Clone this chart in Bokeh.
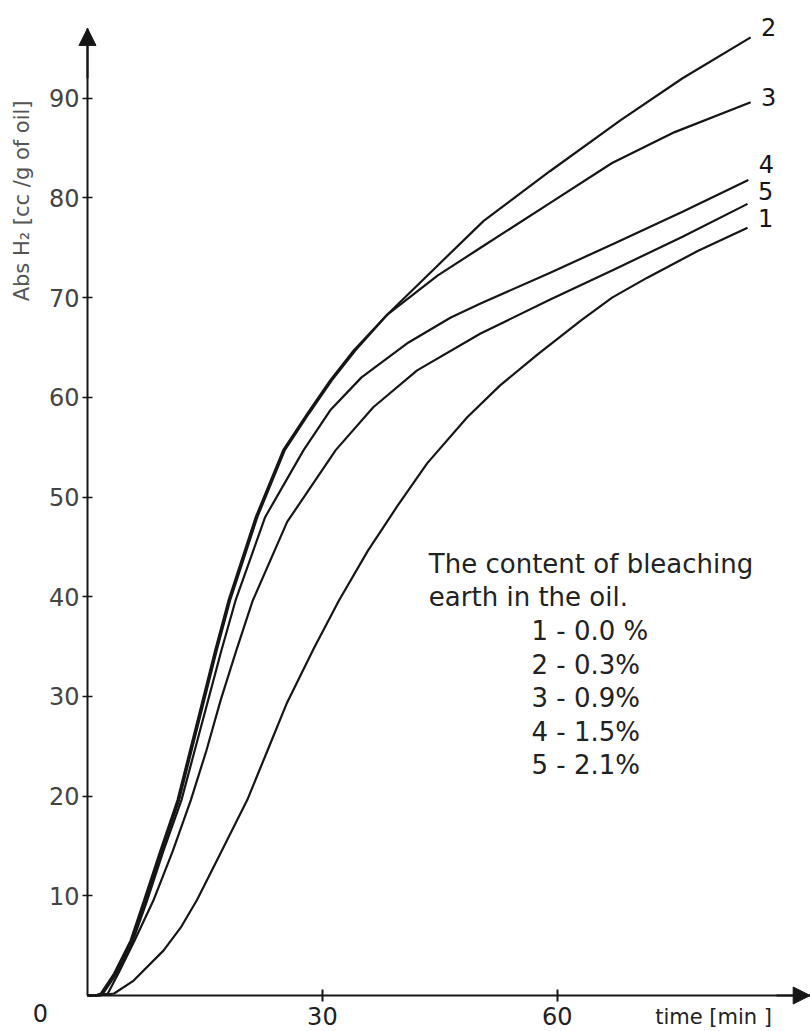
import math
from bokeh.plotting import figure
from bokeh.models import Range1d, FixedTicker, Label, ColumnDataSource, Arrow, NormalHead
from bokeh.core.properties import value
from bokeh.embed import file_html
from bokeh.resources import INLINE

# ---------------- data ----------------
series_names = ["1", "2", "3", "4", "5"]
contents_pct = ["0.0 %", "0.3%", "0.9%", "1.5%", "2.1%"]

t1 = [0, 1.5, 3.4, 5.9, 9.7, 11.9, 14.0, 17.2, 20.4, 22.9, 25.5, 28.9, 32.1, 35.8, 39.5, 43.4, 48.5, 52.7, 57.5, 63.0, 67.0, 71.5, 78.0, 84.3]
y1 = [0, 0, 0.2, 1.5, 4.5, 6.8, 9.6, 14.6, 19.6, 24.4, 29.4, 34.8, 39.6, 44.6, 49.0, 53.4, 58.0, 61.2, 64.3, 67.7, 70.0, 72.0, 74.7, 77.0]

t2 = [0, 1.0, 1.7, 3.4, 5.5, 7.2, 9.3, 11.5, 13.1, 14.7, 16.3, 18.0, 21.5, 25.0, 28.1, 31.0, 34.0, 38.3, 44.7, 50.6, 59.1, 68.1, 76.0, 84.7]
y2 = [0, 0, 0.2, 2.2, 5.5, 9.5, 14.5, 19.6, 24.6, 29.6, 34.6, 39.6, 48.0, 54.7, 58.4, 61.7, 64.7, 68.3, 73.2, 77.7, 82.7, 87.8, 92.0, 96.1]

t3 = [0, 1.2, 1.9, 3.6, 5.7, 7.4, 9.5, 11.7, 13.3, 14.9, 16.5, 18.2, 21.7, 25.2, 28.3, 31.2, 34.2, 38.3, 44.7, 50.2, 59.1, 67.0, 75.0, 84.7]
y3 = [0, 0, 0.2, 2.2, 5.5, 9.5, 14.5, 19.6, 24.6, 29.6, 34.6, 39.6, 48.0, 54.7, 58.4, 61.7, 64.7, 68.3, 72.2, 75.0, 79.5, 83.5, 86.6, 89.6]

t4 = [0, 1.2, 2.0, 3.7, 5.8, 7.6, 9.7, 12.0, 13.7, 15.4, 17.1, 18.9, 22.7, 27.6, 31.0, 35.0, 41.0, 46.4, 50.2, 59.1, 67.2, 76.0, 84.4]
y4 = [0, 0, 0.2, 2.2, 5.5, 9.5, 14.5, 19.6, 24.6, 29.6, 34.6, 39.6, 48.0, 54.7, 58.7, 62.0, 65.5, 68.0, 69.4, 72.5, 75.4, 78.6, 81.8]

t5 = [0, 1.5, 2.6, 4.0, 6.0, 8.4, 10.9, 13.2, 15.2, 17.0, 19.0, 21.1, 25.5, 31.7, 36.5, 42.1, 50.2, 59.1, 67.2, 76.0, 84.3]
y5 = [0, 0, 0.2, 2.3, 5.5, 9.5, 14.5, 19.6, 24.6, 29.6, 34.6, 39.6, 47.5, 54.7, 59.0, 62.7, 66.4, 69.8, 72.8, 76.1, 79.4]

x_ticks = [30, 60]
y_ticks = [10, 20, 30, 40, 50, 60, 70, 80, 90]

x_title = "time [min ]"
y_title = "Abs H\u2082 [cc /g of oil]"
legend_title = ["The content of bleaching", "earth in the oil."]

series_t = [t1, t2, t3, t4, t5]
series_y = [y1, y2, y3, y4, y5]

# ---------------- styling ----------------
FONT = "DejaVu Sans"
INK = "#161616"
X_MAX, Y_MAX = 92.3, 97.0

p = figure(width=810, height=1031,
           x_range=Range1d(-11.11, 92.34), y_range=Range1d(-3.61, 99.8),
           output_backend="svg", toolbar_location=None, min_border=0)
p.xgrid.visible = False
p.ygrid.visible = False
p.outline_line_color = None
p.background_fill_color = "white"
p.border_fill_color = "white"

xa = p.xaxis[0]
xa.fixed_location = 0
xa.bounds = (0, X_MAX)
xa.ticker = FixedTicker(ticks=x_ticks)
xa.major_label_text_font = FONT
xa.major_label_text_font_size = "24px"
xa.major_label_text_color = "#222222"
xa.major_label_standoff = 5
xa.axis_line_width = 2
xa.axis_line_color = INK
xa.major_tick_in = 6
xa.major_tick_out = 6
xa.major_tick_line_width = 2
xa.major_tick_line_color = INK
xa.minor_tick_line_color = None

ya = p.yaxis[0]
ya.fixed_location = 0
ya.bounds = (0, Y_MAX)
ya.ticker = FixedTicker(ticks=y_ticks)
ya.major_label_text_font = FONT
ya.major_label_text_font_size = "24px"
ya.major_label_text_color = "#444444"
ya.major_label_standoff = 3
ya.axis_line_width = 2
ya.axis_line_color = INK
ya.major_tick_in = 5
ya.major_tick_out = 5
ya.major_tick_line_width = 1.5
ya.major_tick_line_color = INK
ya.minor_tick_line_color = None

# axis arrows
p.add_layout(Arrow(end=NormalHead(size=17, fill_color=INK, line_color=INK),
                   x_start=0, y_start=92.0, x_end=0, y_end=Y_MAX,
                   line_color=INK, line_width=2))
p.add_layout(Arrow(end=NormalHead(size=17, fill_color=INK, line_color=INK),
                   x_start=88.0, y_start=0, x_end=X_MAX, y_end=0,
                   line_color=INK, line_width=2))

# curves
for tt, yy in zip(series_t, series_y):
    p.line(tt, yy, line_color=INK, line_width=2.2)

# curve number labels at curve ends
label_up = [10, 10, 5, 16, 13]
end_src = ColumnDataSource(dict(
    x=[tt[-1] for tt in series_t],
    y=[yy[-1] for yy in series_y],
    text=series_names,
    yoff=[-u for u in label_up],
))
p.text(x="x", y="y", text="text", source=end_src, x_offset=18, y_offset="yoff",
       text_font=value(FONT), text_font_size="24px", text_color=INK,
       text_align="center", text_baseline="middle")

# legend block
lx_title, lx_items, ly0, dy = 43.6, 56.7, 43.3, 3.37
leg_lines = legend_title + [f"{n} - {c}" for n, c in zip(series_names, contents_pct)]
leg_x = [lx_title] * len(legend_title) + [lx_items] * len(series_names)
leg_y = [ly0 - i * dy for i in range(len(leg_lines))]
p.text(x=leg_x, y=leg_y, text=leg_lines, text_font=value(FONT), text_font_size="26px",
       text_color="#222222", text_align="left", text_baseline="middle")

# origin label and axis titles
p.add_layout(Label(x=0, y=-1.8, x_offset=-47, text="0", text_font=FONT, text_font_size="24px",
                   text_color="#222222", text_align="center", text_baseline="middle"))
p.add_layout(Label(x=72.5, y=-2.2, text=x_title, text_font=FONT, text_font_size="21px",
                   text_color="#222222", text_align="left", text_baseline="middle"))
p.add_layout(Label(x=0, y=79.7, x_offset=-65, text=y_title, angle=math.pi / 2,
                   text_font=FONT, text_font_size="21px", text_color="#555555",
                   text_align="center", text_baseline="middle"))

open("out.html", "w").write(file_html(p, INLINE))
